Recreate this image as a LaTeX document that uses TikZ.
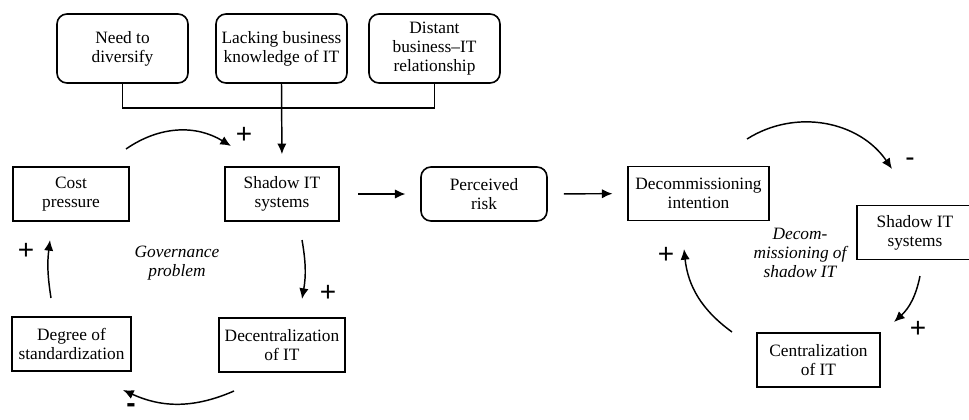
\documentclass[tikz,border=0pt]{standalone}
\usepackage{fontspec}
\setmainfont{Liberation Serif}
\newfontfamily\signfont{Liberation Sans}
\usepackage{tikz}
\usetikzlibrary{calc}
\usetikzlibrary{positioning}
\usetikzlibrary{arrows.meta}
\tikzstyle{link} = [draw,line width=1.1pt,-{Latex[length=8pt,width=7pt]}]
\tikzstyle{tree} = [draw,line width=1.1pt,-]
\tikzstyle{sign} = [font=\signfont\fontsize{21}{21}\selectfont, inner sep=0pt]
\tikzset{
  factor/.style = {align=center, inner sep=1pt, text centered,
    font=\fontsize{13}{14.3}\selectfont, draw=black, line width=1.2pt},
  sbox/.style = {factor, rectangle, minimum height=40.5pt},% variable of the loop
  rbox/.style = {factor, rectangle, rounded corners=7.5pt},% antecedent, rounded
  looptitle/.style = {align=center, font=\fontsize{13}{14.5}\selectfont\itshape},
}

\begin{document}
\begin{tikzpicture}[x=0.75pt,y=0.75pt]
                    \useasboundingbox (0,0) rectangle (969,419);

                    % antecedents
                    \node[rbox,minimum width=98.25pt,minimum height=51.75pt] (need) at (122.5,370.5) {Need to\\diversify};
                    \node[rbox,minimum width=98.25pt,minimum height=51.75pt] (lack) at (281.5,370.5) {Lacking business\\knowledge of IT};
                    \node[rbox,minimum width=98.25pt,minimum height=51.75pt] (dist) at (434.5,370.5) {Distant\\business--IT\\relationship};

                    % governance loop
                    \node[sbox,minimum width=87pt] (cost) at (71,225) {Cost\\pressure};
                    \node[sbox,minimum width=85.5pt] (shadow) at (282,225) {Shadow IT\\systems};
                    \node[sbox,minimum width=94.5pt] (decentral) at (282,74) {Decentralization\\of IT};
                    \node[sbox,minimum width=89.25pt] (degree) at (71.5,75) {Degree of\\standardization};
                    \node[looptitle] (gov) at (177,156) {Governance\\problem};

                    \node[rbox,minimum width=94.5pt,minimum height=40.5pt] (risk) at (484,225) {Perceived\\risk};

                    % decommissioning loop
                    \node[sbox,minimum width=105.75pt] (decomm) at (698.5,225.5) {Decommissioning\\intention};
                    \node[sbox,minimum width=87pt] (shadowr) at (915,186.5) {Shadow IT\\systems};
                    \node[sbox,minimum width=92.25pt] (central) at (818.5,59) {Centralization\\of IT};
                    \node[looptitle] (decom) at (800,166) {Decom-\\missioning of\\shadow IT};

                    \coordinate (j) at (281.5,311);
                    \path[tree] (need.south) |- (j) -| (dist.south);
                    \path[link,shorten >=9pt] (lack.south) -- (shadow.north);

                    \path[link,shorten <=14pt,shorten >=11pt] (shadow) -- (risk);
                    \path[link,shorten <=12pt,shorten >=11pt] (risk) -- (decomm);

                    \coordinate (a1) at (126,270);  \coordinate (b1) at (231,273);
                    \coordinate (a2) at (302,179);  \coordinate (b2) at (302,120);
                    \coordinate (a3) at (234,28);   \coordinate (b3) at (123,29);
                    \coordinate (a4) at (51,121);   \coordinate (b4) at (50,179);
                    \coordinate (a5) at (747,280);  \coordinate (b5) at (892,250);
                    \coordinate (a6) at (920,143);  \coordinate (b6) at (894,97);
                    \coordinate (a7) at (732,87);   \coordinate (b7) at (684,170);

                    \path[link] (a1) to[bend left=33] (b1);
                    \path[link] (a2) to[bend left=10] (b2);
                    \path[link] (a3) to[bend left=24] (b3);
                    \path[link] (a4) to[bend left=8] (b4);
                    \path[link] (a5) to[bend left=44] (b5);
                    \path[link] (a6) to[bend left=18] (b6);
                    \path[link] (a7) to[bend left=24] (b7);

                    \node[sign] (s1) at (244,284) {+};
                    \node[sign] (s2) at (328,126) {+};
                    \node[sign] (s3) at (131,11) {\textbf{-}};
                    \node[sign] (s4) at (26,168) {+};
                    \node[sign] (s5) at (910,257) {-};
                    \node[sign] (s6) at (918,90) {+};
                    \node[sign] (s7) at (666,164) {+};
                \end{tikzpicture}
\end{document}
